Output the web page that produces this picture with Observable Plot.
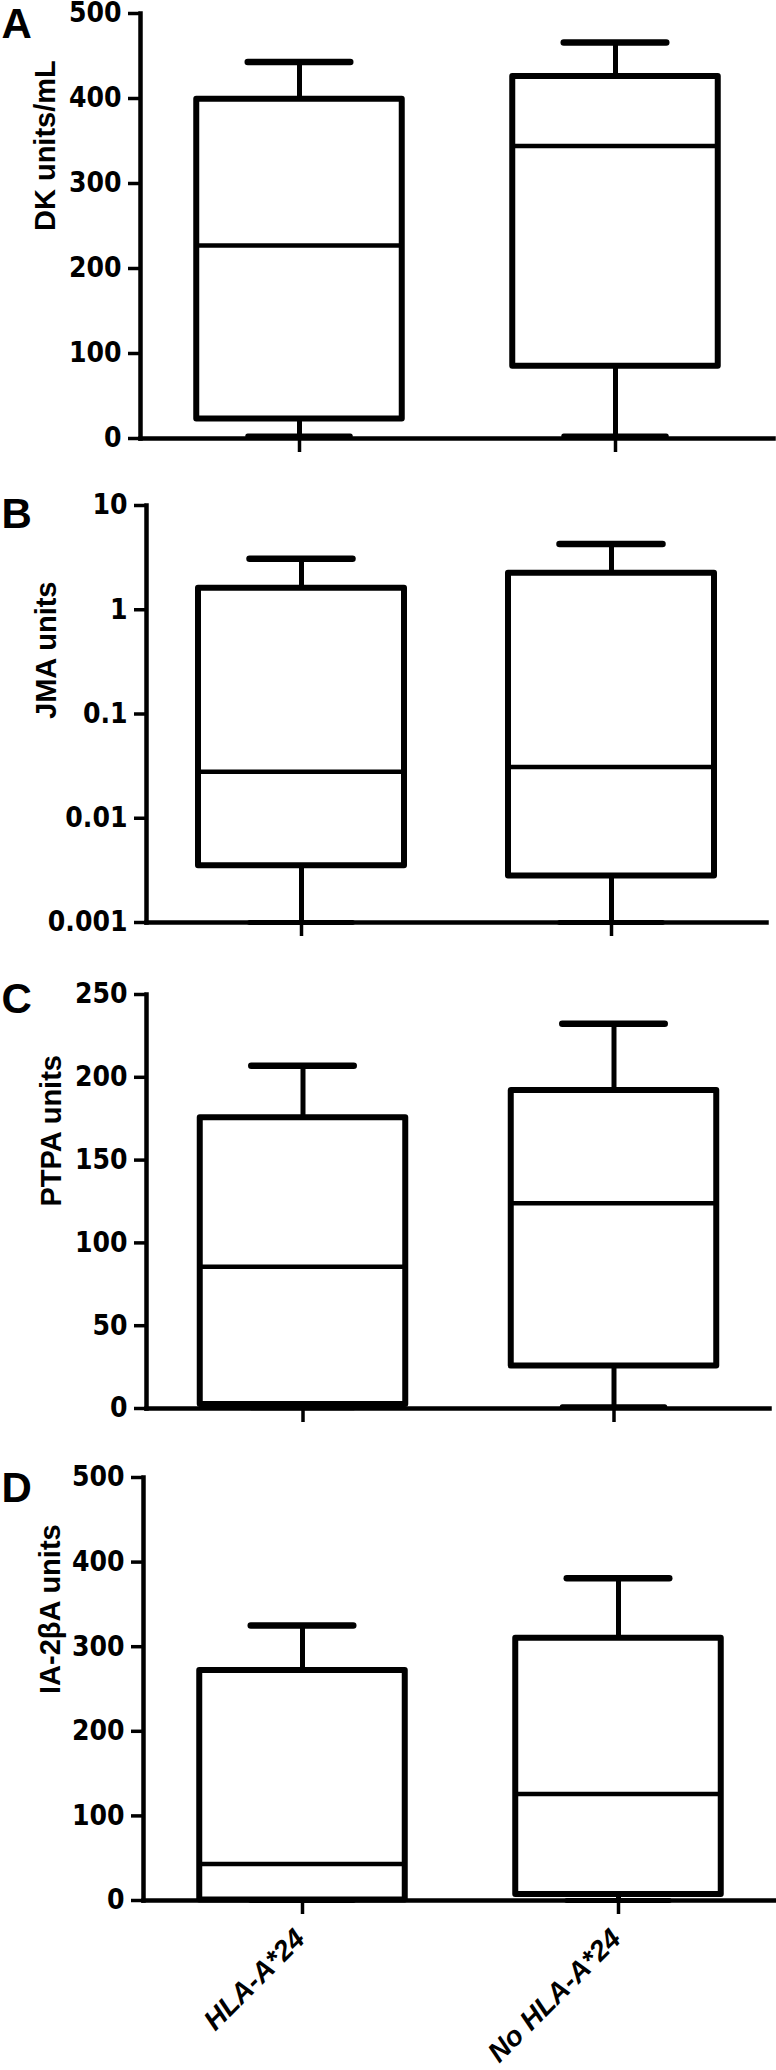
<!DOCTYPE html>
<html><head><meta charset="utf-8">
<script src="https://cdn.jsdelivr.net/npm/d3@7"></script>
<script src="https://cdn.jsdelivr.net/npm/@observablehq/plot@0.6"></script>
<style>
html,body{margin:0;padding:0;background:#fff}
body{width:776px;height:2070px;position:relative;overflow:hidden}
.panel{position:absolute;left:0;width:776px}
</style></head><body>
<div id="pA" class="panel"></div>
<div id="pB" class="panel"></div>
<div id="pC" class="panel"></div>
<div id="pD" class="panel"></div>
<script>
// ---- data ----
const groups = ["HLA-A*24", "No HLA-A*24"];

// Panel A: DK units/mL
const dkMin = [3, 3];
const dkQ1 = [23, 85];
const dkMedian = [227, 344];
const dkQ3 = [399, 426];
const dkMax = [443, 466];
const dkTicks = [0, 100, 200, 300, 400, 500];
const dkTickLabels = ["0", "100", "200", "300", "400", "500"];

// Panel B: JMA units (log)
const jmaMin = [0.001, 0.001];
const jmaQ1 = [0.0035, 0.0028];
const jmaMedian = [0.028, 0.031];
const jmaQ3 = [1.61, 2.24];
const jmaMax = [3.08, 4.27];
const jmaTicks = [0.001, 0.01, 0.1, 1, 10];
const jmaTickLabels = ["0.001", "0.01", "0.1", "1", "10"];

// Panel C: PTPA units
const ptpaMin = [0.5, 1];
const ptpaQ1 = [2.4, 25.7];
const ptpaMedian = [85.6, 124];
const ptpaQ3 = [175.5, 192];
const ptpaMax = [207, 232.4];
const ptpaTicks = [0, 50, 100, 150, 200, 250];
const ptpaTickLabels = ["0", "50", "100", "150", "200", "250"];

// Panel D: IA-2βA units
const iaMin = [0, 0];
const iaQ1 = [0.5, 7];
const iaMedian = [43, 126];
const iaQ3 = [272, 310];
const iaMax = [325, 381];
const iaTicks = [0, 100, 200, 300, 400, 500];
const iaTickLabels = ["0", "100", "200", "300", "400", "500"];

// ---- drawing ----
const narrow = "'Liberation Sans Narrow','Arial Narrow','DejaVu Sans Condensed',sans-serif";
const sans = "'Liberation Sans',Arial,Helvetica,sans-serif";

function makePanel(cfg) {
  const {el, letter, ylabel, min, q1, med, q3, max, ticks, tickLabels, type, domain, layout, xLabels} = cfg;
  const rows = groups.map((g, i) => ({group: g, min: min[i], q1: q1[i], med: med[i], q3: q3[i], max: max[i]}));
  const {axisX, top, bottom, right, letterDy, labelDx} = layout;
  const step = (right - axisX) / 2;
  const boxInset = (step - 206) / 2;
  const capInset = (step - 103) / 2;
  const mTop = 50, mBottom = xLabels ? 170 : 22;
  const marks = [
    Plot.ruleX(rows, {x: "group", y1: "q3", y2: "max", strokeWidth: 5}),
    Plot.ruleX(rows, {x: "group", y1: "min", y2: "q1", strokeWidth: 5}),
    Plot.barY(rows, {x: "group", y1: "q1", y2: "q3", fill: "white", stroke: "black", strokeWidth: 6, strokeLinejoin: "round", insetLeft: boxInset, insetRight: boxInset}),
    Plot.tickY(rows, {x: "group", y: "med", strokeWidth: 4.5, insetLeft: boxInset, insetRight: boxInset}),
    Plot.tickY(rows, {x: "group", y: "max", strokeWidth: 6.5, strokeLinecap: "round", insetLeft: capInset, insetRight: capInset}),
    Plot.tickY(rows, {x: "group", y: "min", strokeWidth: 5, strokeLinecap: "round", insetLeft: capInset, insetRight: capInset}),
    Plot.frame({anchor: "left", strokeWidth: 4.5}),
    Plot.frame({anchor: "bottom", strokeWidth: 4.5}),
    Plot.axisY({ticks, tickFormat: (d) => tickLabels[ticks.indexOf(d)], tickSize: 12, tickPadding: 7, strokeWidth: 3.5,
      fontSize: 28, fontWeight: "bold", fontFamily: narrow, label: null}),
    Plot.axisX({tickSize: 14, tickFormat: () => "", strokeWidth: 3.5, label: null}),
    Plot.text([letter], {frameAnchor: "top-left", textAnchor: "start", lineAnchor: "top", dx: 1 - axisX, dy: letterDy,
      fontSize: 42, fontWeight: "bold", fontFamily: sans}),
    Plot.text([ylabel], {frameAnchor: "left", rotate: -90, dx: labelDx, dy: 5, fontSize: 29, fontWeight: "bold", fontFamily: sans})
  ];
  if (xLabels) {
    marks.push(Plot.text(groups, {x: (d) => d, frameAnchor: "bottom", rotate: -45, textAnchor: "end", lineAnchor: "bottom",
      dx: 4, dy: 40, fontSize: 28, fontWeight: "bold", fontStyle: "italic", fontFamily: sans}));
  }
  const plot = Plot.plot({
    width: 776,
    height: mTop + (bottom - top) + mBottom,
    marginLeft: axisX, marginRight: 776 - right, marginTop: mTop, marginBottom: mBottom,
    style: {fontFamily: sans, background: "white", overflow: "visible", color: "black"},
    x: {type: "band", domain: groups, padding: 0, axis: null},
    y: {type, domain, axis: null},
    marks
  });
  const div = document.getElementById(el);
  div.style.top = (top - mTop) + "px";
  div.appendChild(plot);
}

makePanel({el: "pA", letter: "A", ylabel: "DK units/mL", min: dkMin, q1: dkQ1, med: dkMedian, q3: dkQ3, max: dkMax,
  ticks: dkTicks, tickLabels: dkTickLabels, type: "linear", domain: [0, 500],
  layout: {axisX: 140, top: 13, bottom: 438, right: 773, letterDy: -5, labelDx: -95}});
makePanel({el: "pB", letter: "B", ylabel: "JMA units", min: jmaMin, q1: jmaQ1, med: jmaMedian, q3: jmaQ3, max: jmaMax,
  ticks: jmaTicks, tickLabels: jmaTickLabels, type: "log", domain: [0.001, 10],
  layout: {axisX: 146, top: 505, bottom: 922, right: 766, letterDy: -7, labelDx: -100}});
makePanel({el: "pC", letter: "C", ylabel: "PTPA units", min: ptpaMin, q1: ptpaQ1, med: ptpaMedian, q3: ptpaQ3, max: ptpaMax,
  ticks: ptpaTicks, tickLabels: ptpaTickLabels, type: "linear", domain: [0, 250],
  layout: {axisX: 146, top: 994, bottom: 1408, right: 769, letterDy: -11, labelDx: -95}});
makePanel({el: "pD", letter: "D", ylabel: "IA-2βA units", min: iaMin, q1: iaQ1, med: iaMedian, q3: iaQ3, max: iaMax,
  ticks: iaTicks, tickLabels: iaTickLabels, type: "linear", domain: [0, 500],
  layout: {axisX: 143, top: 1477, bottom: 1900, right: 776, letterDy: -5, labelDx: -93}, xLabels: true});
</script>
</body></html>
